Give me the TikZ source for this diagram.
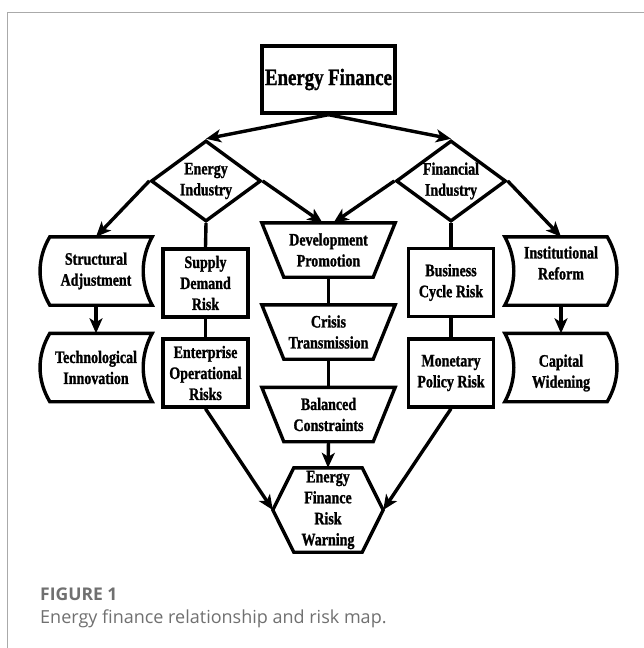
\documentclass[tikz,border=0pt]{standalone}
\usepackage{fontspec}
\usetikzlibrary{arrows.meta,shapes.geometric,calc}
\newfontfamily\lblfont[FakeStretch=0.8, BoldFeatures={FakeBold=1.2}]{Liberation Serif}
\newfontfamily\capfont{Open Sans}
\definecolor{framegray}{HTML}{AAAAAA}
\definecolor{capgray}{HTML}{707070}

% outlines drawn around plain (undrawn) nodes
\newcommand\trapout[1]{%
  \draw[outline] (#1.north west) -- (#1.north east)
    -- ([xshift=-22pt]#1.south east) -- ([xshift=22pt]#1.south west) -- cycle;}
\newcommand\storeleft[1]{%
  \draw[outline] ([xshift=10pt]#1.north west) -- (#1.north east)
    .. controls +(-12pt,-22pt) and +(-12pt,22pt) .. (#1.south east)
    -- ([xshift=10pt]#1.south west)
    .. controls +(-13pt,22pt) and +(-13pt,-22pt) .. ([xshift=10pt]#1.north west) -- cycle;}
\newcommand\storeright[1]{%
  \draw[outline] (#1.north west) -- ([xshift=-10pt]#1.north east)
    .. controls +(13pt,-22pt) and +(13pt,22pt) .. ([xshift=-10pt]#1.south east)
    -- (#1.south west)
    .. controls +(12pt,22pt) and +(12pt,-22pt) .. (#1.north west) -- cycle;}
\newcommand\hexout[1]{%
  \draw[outline] (#1.west) -- ([xshift=21pt]#1.north west) -- ([xshift=-21pt]#1.north east)
    -- (#1.east) -- ([xshift=-21pt]#1.south east) -- ([xshift=21pt]#1.south west) -- cycle;}

\begin{document}
\begin{tikzpicture}[x=1pt,y=-1pt,
  lbl/.style={font=\lblfont\bfseries\fontsize{17.5}{21}\selectfont, align=center, inner sep=0pt},
  box/.style={lbl, draw, line width=3.4pt, minimum width=85pt, minimum height=68pt},
  rhomb/.style={lbl, diamond, draw, line width=3.4pt, minimum width=110pt, minimum height=81pt, shape aspect=1.36},
  trap/.style={lbl, minimum width=133pt, minimum height=54pt},
  stored/.style={lbl, minimum width=112pt, minimum height=68pt},
  outline/.style={line width=3.4pt, line join=miter},
  link/.style={line width=3.4pt},
  arr/.style={line width=3.4pt, -{Stealth[length=15pt,width=13pt,inset=4pt]}}
]
\fill[white] (0,0) rectangle (644,648);
\useasboundingbox (0,0) rectangle (644,648);

% card frame
\draw[framegray, line width=1pt] (644,12.7) -- (7,12.7) -- (7,648);

% top
\node[draw, line width=3.4pt, minimum width=133pt, minimum height=67pt, inner sep=0pt,
      font=\lblfont\bfseries\fontsize{23.5}{28}\selectfont] (ef) at (328.5,79.5) {Energy Finance};

% industries
\node[rhomb] (ei) at (206,181) {Energy\\Industry};
\node[rhomb] (fi) at (451,181) {Financial\\Industry};

% left column
\node[stored] (sa) at (96,271) {Structural\\Adjustment};
\node[stored] (ti) at (96,367.5) {Technological\\Innovation};
\storeleft{sa}
\storeleft{ti}

% right column
\node[stored] (ir) at (561,271) {};
\node[lbl] (irtext) at (561,263) {Institutional\\Reform};
\node[stored] (cw) at (561,367.5) {};
\node[lbl] (cwtext) at (561,373) {Capital\\Widening};
\storeright{ir}
\storeright{cw}

% risk boxes
\node[box] (sdr) at (205.5,283) {Supply\\Demand\\Risk};
\node[box] (eor) at (205.5,373) {Enterprise\\Operational\\Risks};
\node[box] (bcr) at (451,282.5) {Business\\Cycle Risk};
\node[box] (mpr) at (451,373) {Monetary\\Policy Risk};

% centre chain
\node[trap] (dev) at (328.5,250) {Development\\Promotion};
\node[trap] (cri) at (328.5,332) {Crisis\\Transmission};
\node[trap] (bal) at (328.5,414.5) {Balanced\\Constraints};
\trapout{dev}
\trapout{cri}
\trapout{bal}

% warning
\node[lbl, minimum width=110pt, minimum height=84pt] (hex) at (328,510) {Energy\\Finance\\Risk\\Warning};
\hexout{hex}

% connectors
\draw[arr] (ef.south) -- (ei.north);
\draw[arr] (ef.south) -- (fi.north);
\draw[arr] (ei.west) -- (sa.north);
\draw[arr] (ei.east) -- ([xshift=-6pt]dev.north);
\draw[arr] (fi.west) -- ([xshift=5pt]dev.north);
\draw[arr] (fi.east) -- (ir.north);
\draw[arr] (sa.south) -- (ti.north);
\draw[arr] (ir.south) -- (cw.north);
\draw[link] (ei.south) -- (sdr.north);
\draw[link] (sdr.south) -- (eor.north);
\draw[link] (fi.south) -- (bcr.north);
\draw[link] (bcr.south) -- (mpr.north);
\draw[link] (dev.south) -- (cri.north);
\draw[link] (cri.south) -- (bal.north);
\draw[arr] (bal.south) -- (hex.north);
\draw[arr] (eor.south) -- (hex.west);
\draw[arr] (mpr.south) -- (hex.east);

% caption
\node[anchor=base west, inner sep=0pt, text=capgray,
      font=\capfont\bfseries\fontsize{17.5}{20}\selectfont] (figlabel) at (40,600) {FIGURE 1};
\node[anchor=base west, inner sep=0pt, text=capgray,
      font=\capfont\fontsize{18}{20}\selectfont] (figcaption) at (40,623) {Energy finance relationship and risk map.};
\end{tikzpicture}
\end{document}
